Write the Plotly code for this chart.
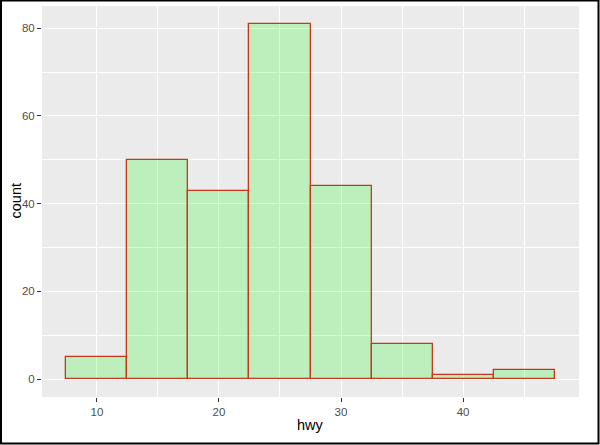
import plotly.graph_objects as go

bin_centers = [10, 15, 20, 25, 30, 35, 40, 45]
counts = [5, 50, 43, 81, 44, 8, 1, 2]
bin_width = 5
x_ticks = [10, 20, 30, 40]
y_ticks = [0, 20, 40, 60, 80]

FONT = "Liberation Sans, Arial, sans-serif"

fig = go.Figure()
fig.add_trace(go.Bar(
    x=bin_centers, y=counts, width=[bin_width] * len(bin_centers),
    marker=dict(color="rgba(0,255,0,0.2)", line=dict(color="#C9361A", width=1.3)),
    hoverinfo="x+y",
))

W, H = 600, 445
ml, mr, mt, mb = 42, 21, 6, 48
pw, ph = W - ml - mr, H - mt - mb

axis_common = dict(
    showgrid=True, gridcolor="white", gridwidth=1.1,
    zeroline=False, showline=False, automargin=False,
    ticks="outside", ticklen=4, tickwidth=1.1, tickcolor="#333333",
    tickfont=dict(family=FONT, size=11.5, color="#4D4D4D"),
)
minor_common = dict(showgrid=True, gridcolor="white", gridwidth=0.55, ticks="")

xmin, xmax = 7.5, 47.5
xpad = (xmax - xmin) * 0.05
ymax = max(counts)
ypad = ymax * 0.05

fig.update_layout(
    width=W, height=H,
    margin=dict(l=ml, r=mr, t=mt, b=mb, autoexpand=False),
    paper_bgcolor="white", plot_bgcolor="#EBEBEB",
    showlegend=False,
    bargap=0,
    xaxis=dict(axis_common, range=[xmin - xpad, xmax + xpad], tickvals=x_ticks,
               minor=dict(minor_common, tickvals=[15, 25, 35, 45])),
    yaxis=dict(axis_common, range=[-ypad, ymax + ypad], tickvals=y_ticks,
               minor=dict(minor_common, tickvals=[10, 30, 50, 70])),
)

fig.add_annotation(text="hwy", xref="paper", yref="paper", x=0.5, y=0,
                   yshift=-(425 - (H - mb)), showarrow=False, yanchor="middle",
                   font=dict(family=FONT, size=14.5, color="black"))
fig.add_annotation(text="count", xref="paper", yref="paper", x=0, y=0.5,
                   xshift=-(ml - 15), showarrow=False, textangle=-90, xanchor="center",
                   font=dict(family=FONT, size=14.5, color="black"))

# image frame
fig.add_shape(type="rect", xref="paper", yref="paper",
              x0=-(ml - 1) / pw, x1=1 + (mr - 1.5) / pw,
              y0=-(mb - 1.5) / ph, y1=1 + (mt - 0.5) / ph,
              line=dict(color="black", width=2), fillcolor="rgba(0,0,0,0)", layer="above")

fig.write_html("out.html", config={"displayModeBar": False},
               post_script="document.body.style.margin='0';")
